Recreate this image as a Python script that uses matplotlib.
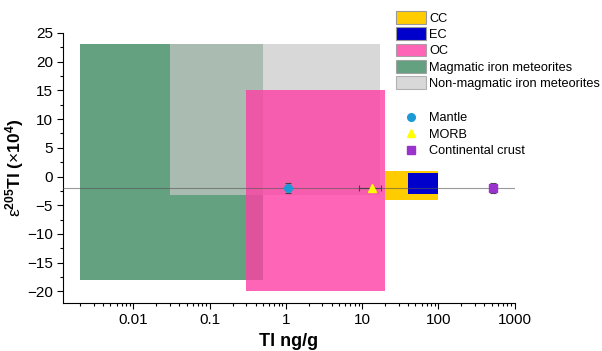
import matplotlib
matplotlib.use("Agg")
import matplotlib.pyplot as plt
from matplotlib.patches import Patch
from matplotlib.lines import Line2D
from matplotlib.ticker import MultipleLocator, LogLocator, NullFormatter, FixedLocator

plt.rcParams['font.family'] = ['Liberation Sans', 'DejaVu Sans']
plt.rcParams['mathtext.fontset'] = 'custom'
plt.rcParams['mathtext.rm'] = 'Liberation Sans'
plt.rcParams['mathtext.bf'] = 'Liberation Sans:bold'
plt.rcParams['mathtext.it'] = 'Liberation Sans:italic'

# boxes: name, x range (ng/g), eps range, colour, alpha
box_names = ['Magmatic iron meteorites', 'Non-magmatic iron meteorites', 'OC', 'CC', 'EC']
box_x0 = [0.002, 0.03, 0.3, 20, 40]
box_x1 = [0.5, 17, 20, 100, 100]
box_y0 = [-18, -3.2, -20, -4, -3]
box_y1 = [23, 23, 15, 1, 0.7]
box_colors = ['#3d8a61', '#c8c8c8', '#ff3fa4', '#ffcc00', '#0000cc']
box_alpha = [0.8, 0.7, 0.8, 1.0, 1.0]

# reservoirs
pt_names = ['Mantle', 'MORB', 'Continental crust']
pt_x = [1.05, 13.6, 520]
pt_y = [-2, -2, -2]
pt_xerr_lo = [0, 4.4, 0]
pt_xerr_hi = [0, 4.0, 0]
pt_yerr = [0.8, 0, 0.8]
pt_markers = ['o', '^', 's']
pt_colors = ['#1b9ad6', '#ffff00', '#9933cc']

legend_order = ['CC', 'EC', 'OC', 'Magmatic iron meteorites', 'Non-magmatic iron meteorites']

fig = plt.figure(figsize=(6.02, 3.51), dpi=100)
ax = fig.add_axes([0.105, 0.137, 0.75, 0.769])

for i in range(len(box_names)):
    ax.fill_between([box_x0[i], box_x1[i]], box_y0[i], box_y1[i],
                    color=box_colors[i], alpha=box_alpha[i], lw=0, zorder=1 + i * 0.1)

ax.plot([0.0012, 1000], [-2, -2], color='#555555', lw=0.8, alpha=0.6, zorder=3)

for i in range(len(pt_names)):
    ax.errorbar(pt_x[i], pt_y[i], yerr=pt_yerr[i] if pt_yerr[i] else None,
                xerr=[[pt_xerr_lo[i]], [pt_xerr_hi[i]]] if pt_xerr_hi[i] else None,
                fmt=pt_markers[i], color=pt_colors[i], ms=5.5, ecolor='#444444',
                elinewidth=0.8, capsize=2.5, capthick=0.8, zorder=4)

ax.set_xscale('log')
ax.set_xlim(0.0012, 1000)
ax.set_ylim(-22, 25)
ax.spines['top'].set_visible(False)
ax.spines['right'].set_visible(False)

ax.set_yticks(range(-20, 26, 5))
ax.yaxis.set_minor_locator(MultipleLocator(2.5))
ax.xaxis.set_major_locator(FixedLocator([0.01, 0.1, 1, 10, 100, 1000]))
ax.xaxis.set_major_formatter(matplotlib.ticker.FuncFormatter(lambda v, p: ('%g' % v)))
ax.xaxis.set_minor_locator(LogLocator(base=10, subs=range(2, 10), numticks=20))
ax.xaxis.set_minor_formatter(NullFormatter())
ax.tick_params(axis='both', which='major', labelsize=11, length=4, width=0.8, direction='out')
ax.tick_params(axis='both', which='minor', length=2.5, width=0.8, direction='out')

ax.set_xlabel('Tl ng/g', fontsize=13, fontweight='bold', labelpad=4)
ax.set_ylabel(r'$\mathrm{ε^{\mathbf{205}}}$Tl ($\mathrm{×}$10$^{\mathbf{4}}$)',
              fontsize=12.5, fontweight='bold', labelpad=1)

handles = []
for name in legend_order:
    i = box_names.index(name)
    handles.append(Patch(facecolor=box_colors[i], alpha=box_alpha[i],
                         edgecolor='#999999', lw=0.8, label=name))
fig.legend(handles=handles, loc='upper left', bbox_to_anchor=(0.658, 0.968),
           frameon=False, fontsize=9.2, handlelength=2.3, handleheight=1.15,
           handletextpad=0.3, labelspacing=0.2, borderaxespad=0, borderpad=0)

pt_handles = [Line2D([], [], marker=pt_markers[i], color=pt_colors[i], ls='', ms=5.5,
                     label=pt_names[i]) for i in range(len(pt_names))]
fig.legend(handles=pt_handles, loc='upper left', bbox_to_anchor=(0.672, 0.68),
           frameon=False, fontsize=9.2, handlelength=1.0, handletextpad=0.9,
           labelspacing=0.35, borderaxespad=0, borderpad=0)

fig.savefig('out.png', dpi=100)
